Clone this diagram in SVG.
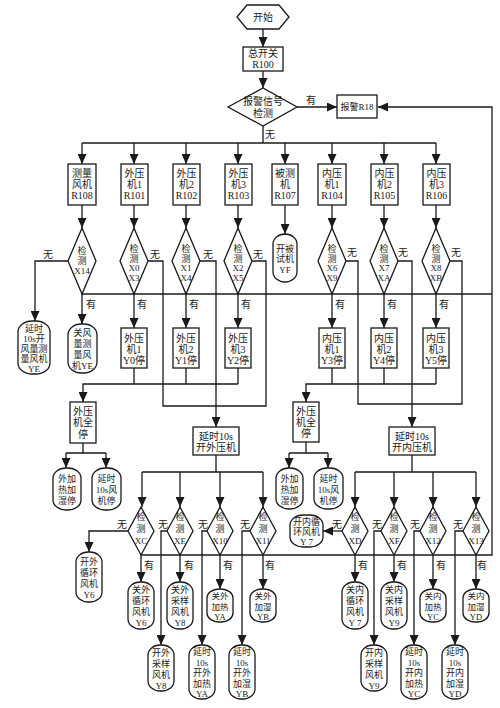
<svg xmlns="http://www.w3.org/2000/svg" width="500" height="708" viewBox="0 0 500 708">
<style>
.n{fill:#fff;stroke:#1a1a1a;stroke-width:1.3}
.c{fill:none;stroke:#1a1a1a;stroke-width:1.3}
.a{marker-end:url(#ah)}
text{font-family:"Liberation Serif","Noto Sans CJK SC",serif;font-size:10px;fill:#1a1a1a;text-anchor:middle}
.s{font-size:9px}
.st text{font-size:9px}
.st2 text{font-size:8.5px}
</style>
<defs>
<marker id="ah" markerUnits="userSpaceOnUse" markerWidth="10" markerHeight="9" refX="10" refY="4.5" orient="auto">
<path d="M0,0 L10,4.5 L0,9 z" fill="#1a1a1a"/>
</marker>
</defs>
<rect width="500" height="708" fill="#fff"/>
<g id="connectors">
<path class="c a" d="M263,29 V47"/>
<path class="c a" d="M263,71 V88"/>
<path class="c a" d="M297,107 H337"/>
<path class="c a" d="M141,555 H492 V107 H378"/>
<path class="c" d="M263,126 V143 M82,143 H436"/>
<path class="c a" d="M82,143 V164"/><path class="c a" d="M134,143 V164"/><path class="c a" d="M186,143 V164"/><path class="c a" d="M238,143 V164"/>
<path class="c a" d="M285,143 V164"/><path class="c a" d="M332,143 V164"/><path class="c a" d="M384,143 V164"/><path class="c a" d="M436,143 V164"/>
<path class="c a" d="M82,205 V228"/><path class="c a" d="M134,205 V228"/><path class="c a" d="M186,205 V228"/><path class="c a" d="M238,205 V228"/>
<path class="c a" d="M285,205 V234"/><path class="c a" d="M332,205 V228"/><path class="c a" d="M384,205 V228"/><path class="c a" d="M436,205 V228"/>
<path class="c" d="M82,294 H492"/>
<path class="c a" d="M68,261 H35 V321"/>
<path class="c a" d="M82,294 V324"/>
<path class="c a" d="M134,294 V328"/><path class="c a" d="M186,294 V328"/><path class="c a" d="M238,294 V328"/>
<path class="c a" d="M332,294 V328"/><path class="c a" d="M384,294 V328"/><path class="c a" d="M436,294 V328"/>
<path class="c" d="M148,261 H163 V406 H266 V261 H252"/>
<path class="c a" d="M200,261 H216 V427"/>
<path class="c" d="M346,261 H358 V404 H462 V261 H450"/>
<path class="c a" d="M398,261 H412 V427"/>
<path class="c" d="M134,368 V384 M186,368 V384 M238,368 V384"/>
<path class="c a" d="M238,384 H83 V402"/>
<path class="c" d="M332,368 V384 M384,368 V384 M436,368 V384"/>
<path class="c a" d="M436,384 H306 V402"/>
<path class="c" d="M83,443 V453 M66,453 H106"/>
<path class="c a" d="M66,453 V468"/><path class="c a" d="M106,453 V468"/>
<path class="c" d="M306,442 V453 M289,453 H328"/>
<path class="c a" d="M289,453 V468"/><path class="c a" d="M328,453 V468"/>
<path class="c" d="M216,455 V472 M142,472 H263"/>
<path class="c a" d="M142,472 V507"/><path class="c a" d="M180,472 V507"/><path class="c a" d="M220,472 V507"/><path class="c a" d="M263,472 V507"/>
<path class="c" d="M412,455 V472 M355,472 H476"/>
<path class="c a" d="M355,472 V507"/><path class="c a" d="M394,472 V507"/><path class="c a" d="M433,472 V507"/><path class="c a" d="M476,472 V507"/>
<path class="c a" d="M128,531 H89 V552"/>
<path class="c a" d="M167,531 H161 V645"/>
<path class="c a" d="M207,531 H202 V645"/>
<path class="c a" d="M250,531 H242 V645"/>
<path class="c a" d="M141,555 V582"/><path class="c a" d="M180,555 V582"/><path class="c a" d="M220,555 V589"/><path class="c a" d="M263,555 V589"/>
<path class="c a" d="M342,531 H323"/>
<path class="c a" d="M381,531 H374 V645"/>
<path class="c a" d="M420,531 H414 V645"/>
<path class="c a" d="M463,531 H455 V645"/>
<path class="c a" d="M355,555 V582"/><path class="c a" d="M394,555 V582"/><path class="c a" d="M433,555 V589"/><path class="c a" d="M476,555 V589"/>
<g>
<text x="311" y="104">有</text><text x="270" y="138">无</text>
<text x="48" y="258">无</text><text x="155" y="258">无</text><text x="208" y="258">无</text><text x="258" y="258">无</text>
<text x="352" y="256">无</text><text x="403" y="256">无</text><text x="456" y="256">无</text>
<text x="91" y="308">有</text><text x="142" y="308">有</text><text x="194" y="308">有</text><text x="246" y="308">有</text>
<text x="340" y="308">有</text><text x="392" y="308">有</text><text x="444" y="308">有</text>
<text x="122" y="528">无</text><text x="163" y="528">无</text><text x="203" y="528">无</text><text x="245" y="528">无</text>
<text x="337" y="528">无</text><text x="377" y="528">无</text><text x="415" y="528">无</text><text x="458" y="528">无</text>
<text x="149" y="569">有</text><text x="189" y="569">有</text><text x="228" y="569">有</text><text x="270" y="569">有</text>
<text x="363" y="569">有</text><text x="402" y="569">有</text><text x="441" y="569">有</text><text x="482" y="569">有</text>
</g>
</g>
<g id="start"><polygon class="n" points="237,17 247,5 279,5 289,17 279,29 247,29"/><text x="263" y="21">开始</text></g>
<g id="r100"><rect class="n" x="243" y="47" width="40" height="24"/><text x="263" y="57">总开关</text><text x="263" y="68">R100</text></g>
<g id="alarmCheck"><polygon class="n" points="228,107 263,88 297,107 263,126"/><text x="263" y="105">报警信号</text><text x="263" y="117">检测</text></g>
<g id="r18"><rect class="n" x="337" y="95" width="40" height="23"/><text class="s" x="357" y="110">报警R18</text></g>

<g id="b108"><rect class="n" x="68" y="164" width="28" height="41"/><text x="82" y="177">测量</text><text x="82" y="188">风机</text><text x="82" y="199">R108</text></g>
<g id="b101"><rect class="n" x="121" y="164" width="27" height="41"/><text x="134.5" y="177">外压</text><text x="134.5" y="188">机1</text><text x="134.5" y="199">R101</text></g>
<g id="b102"><rect class="n" x="173" y="164" width="27" height="41"/><text x="186.5" y="177">外压</text><text x="186.5" y="188">机2</text><text x="186.5" y="199">R102</text></g>
<g id="b103"><rect class="n" x="225" y="164" width="27" height="41"/><text x="238.5" y="177">外压</text><text x="238.5" y="188">机3</text><text x="238.5" y="199">R103</text></g>
<g id="b107"><rect class="n" x="272" y="164" width="26" height="41"/><text x="285" y="177">被测</text><text x="285" y="188">机</text><text x="285" y="199">R107</text></g>
<g id="b104"><rect class="n" x="318" y="164" width="28" height="41"/><text x="332" y="177">内压</text><text x="332" y="188">机1</text><text x="332" y="199">R104</text></g>
<g id="b105"><rect class="n" x="371" y="164" width="27" height="41"/><text x="384.5" y="177">内压</text><text x="384.5" y="188">机2</text><text x="384.5" y="199">R105</text></g>
<g id="b106"><rect class="n" x="423" y="164" width="27" height="41"/><text x="436.5" y="177">内压</text><text x="436.5" y="188">机3</text><text x="436.5" y="199">R106</text></g>

<g id="d14"><polygon class="n" points="68,261 82,228 96,261 82,294"/><text class="s" x="82" y="254">检</text><text class="s" x="82" y="264">测</text><text class="s" x="82" y="274">X14</text></g>
<g id="d0"><polygon class="n" points="120,261 134,228 148,261 134,294"/><text class="s" x="134" y="252">检</text><text class="s" x="134" y="261.5">测</text><text class="s" x="134" y="271">X0</text><text class="s" x="134" y="280.5">X3</text></g>
<g id="d1"><polygon class="n" points="172,261 186,228 200,261 186,294"/><text class="s" x="186" y="252">检</text><text class="s" x="186" y="261.5">测</text><text class="s" x="186" y="271">X1</text><text class="s" x="186" y="280.5">X4</text></g>
<g id="d2"><polygon class="n" points="224,261 238,228 252,261 238,294"/><text class="s" x="238" y="252">检</text><text class="s" x="238" y="261.5">测</text><text class="s" x="238" y="271">X2</text><text class="s" x="238" y="280.5">X5</text></g>
<g id="d6"><polygon class="n" points="318,261 332,228 346,261 332,294"/><text class="s" x="332" y="252">检</text><text class="s" x="332" y="261.5">测</text><text class="s" x="332" y="271">X6</text><text class="s" x="332" y="280.5">X9</text></g>
<g id="d7"><polygon class="n" points="370,261 384,228 398,261 384,294"/><text class="s" x="384" y="252">检</text><text class="s" x="384" y="261.5">测</text><text class="s" x="384" y="271">X7</text><text class="s" x="384" y="280.5">XA</text></g>
<g id="d8"><polygon class="n" points="422,261 436,228 450,261 436,294"/><text class="s" x="436" y="252">检</text><text class="s" x="436" y="261.5">测</text><text class="s" x="436" y="271">X8</text><text class="s" x="436" y="280.5">XB</text></g>

<g id="yf" class="st"><rect class="n" x="273" y="234" width="24" height="48" rx="12" ry="10"/><text x="285" y="251.5">开被</text><text x="285" y="262">试机</text><text x="285" y="272.5">YF</text></g>
<g id="yeOn" class="st"><rect class="n" x="18" y="321" width="32" height="53" rx="14" ry="11"/><text x="34" y="332">延时</text><text x="34" y="342">10s开</text><text x="34" y="352">风量测</text><text x="34" y="362">量风机</text><text x="34" y="372">YE</text></g>
<g id="yeOff" class="st"><rect class="n" x="68" y="324" width="29" height="49" rx="13" ry="11"/><text x="82.5" y="336">关风</text><text x="82.5" y="347">量测</text><text x="82.5" y="358">量风</text><text x="82.5" y="369">机YE</text></g>

<g id="y0"><rect class="n" x="121" y="328" width="26" height="40"/><text x="134" y="342">外压</text><text x="134" y="353">机1</text><text x="134" y="364">Y0停</text></g>
<g id="y1"><rect class="n" x="173" y="328" width="26" height="40"/><text x="186" y="342">外压</text><text x="186" y="353">机2</text><text x="186" y="364">Y1停</text></g>
<g id="y2"><rect class="n" x="225" y="328" width="26" height="40"/><text x="238" y="342">外压</text><text x="238" y="353">机3</text><text x="238" y="364">Y2停</text></g>
<g id="y3"><rect class="n" x="319" y="328" width="26" height="40"/><text x="332" y="342">内压</text><text x="332" y="353">机1</text><text x="332" y="364">Y3停</text></g>
<g id="y4"><rect class="n" x="371" y="328" width="26" height="40"/><text x="384" y="342">内压</text><text x="384" y="353">机2</text><text x="384" y="364">Y4停</text></g>
<g id="y5"><rect class="n" x="423" y="328" width="26" height="40"/><text x="436" y="342">内压</text><text x="436" y="353">机3</text><text x="436" y="364">Y5停</text></g>

<g id="allStopL"><rect class="n" x="70" y="402" width="26" height="41"/><text x="83" y="415">外压</text><text x="83" y="426">机全</text><text x="83" y="438">停</text></g>
<g id="allStopR"><rect class="n" x="293" y="402" width="26" height="40"/><text x="306" y="415">外压</text><text x="306" y="426">机全</text><text x="306" y="437">停</text></g>
<g id="heatStopL" class="st"><rect class="n" x="53" y="468" width="28" height="42" rx="13" ry="10"/><text x="67" y="482">外加</text><text x="67" y="493">热加</text><text x="67" y="504">湿停</text></g>
<g id="fanStopL" class="st"><rect class="n" x="92" y="468" width="29" height="42" rx="13" ry="10"/><text x="106.5" y="482">延时</text><text x="106.5" y="493">10s风</text><text x="106.5" y="504">机停</text></g>
<g id="heatStopR" class="st"><rect class="n" x="276" y="468" width="27" height="41" rx="13" ry="10"/><text x="289.5" y="482">外加</text><text x="289.5" y="493">热加</text><text x="289.5" y="504">湿停</text></g>
<g id="fanStopR" class="st"><rect class="n" x="314" y="468" width="29" height="41" rx="13" ry="10"/><text x="328.5" y="482">延时</text><text x="328.5" y="493">10s风</text><text x="328.5" y="504">机停</text></g>

<g id="delayOut"><rect class="n" x="193" y="427" width="46" height="28"/><text x="216" y="440">延时10s</text><text x="216" y="451">开外压机</text></g>
<g id="delayIn"><rect class="n" x="389" y="427" width="46" height="28"/><text x="412" y="440">延时10s</text><text x="412" y="451">开内压机</text></g>

<g id="dXC"><polygon class="n" points="128,531 141,507 154,531 141,555"/><text class="s" x="141" y="520">检</text><text class="s" x="141" y="532">测</text><text class="s" x="141" y="544">XC</text></g>
<g id="dXE"><polygon class="n" points="167,531 180,507 193,531 180,555"/><text class="s" x="180" y="520">检</text><text class="s" x="180" y="532">测</text><text class="s" x="180" y="544">XE</text></g>
<g id="dX10"><polygon class="n" points="207,531 220,507 233,531 220,555"/><text class="s" x="220" y="520">检</text><text class="s" x="220" y="532">测</text><text class="s" x="220" y="544">X10</text></g>
<g id="dX11"><polygon class="n" points="250,531 263,507 276,531 263,555"/><text class="s" x="263" y="520">检</text><text class="s" x="263" y="532">测</text><text class="s" x="263" y="544">X11</text></g>
<g id="dXD"><polygon class="n" points="342,531 355,507 368,531 355,555"/><text class="s" x="355" y="520">检</text><text class="s" x="355" y="532">测</text><text class="s" x="355" y="544">XD</text></g>
<g id="dXF"><polygon class="n" points="381,531 394,507 407,531 394,555"/><text class="s" x="394" y="520">检</text><text class="s" x="394" y="532">测</text><text class="s" x="394" y="544">XF</text></g>
<g id="dX12"><polygon class="n" points="420,531 433,507 446,531 433,555"/><text class="s" x="433" y="520">检</text><text class="s" x="433" y="532">测</text><text class="s" x="433" y="544">X12</text></g>
<g id="dX13"><polygon class="n" points="463,531 476,507 489,531 476,555"/><text class="s" x="476" y="520">检</text><text class="s" x="476" y="532">测</text><text class="s" x="476" y="544">X13</text></g>

<g id="y6on" class="st"><rect class="n" x="76" y="552" width="26" height="50" rx="12" ry="10"/><text x="89" y="565">开外</text><text x="89" y="576">循环</text><text x="89" y="587">风机</text><text x="89" y="598">Y6</text></g>
<g id="y6off" class="st"><rect class="n" x="128" y="582" width="26" height="47" rx="12" ry="10"/><text x="141" y="593">关外</text><text x="141" y="604">循环</text><text x="141" y="615">风机</text><text x="141" y="626">Y6</text></g>
<g id="y8off" class="st"><rect class="n" x="167" y="582" width="26" height="47" rx="12" ry="10"/><text x="180" y="593">关外</text><text x="180" y="604">采样</text><text x="180" y="615">风机</text><text x="180" y="626">Y8</text></g>
<g id="yaoff" class="st2"><rect class="n" x="207" y="589" width="26" height="33" rx="12" ry="9"/><text x="220" y="599">关外</text><text x="220" y="609.5">加热</text><text x="220" y="620">YA</text></g>
<g id="yboff" class="st2"><rect class="n" x="250" y="589" width="26" height="33" rx="12" ry="9"/><text x="263" y="599">关外</text><text x="263" y="609.5">加湿</text><text x="263" y="620">YB</text></g>
<g id="y8on" class="st"><rect class="n" x="148" y="645" width="26" height="46" rx="12" ry="10"/><text x="161" y="656">开外</text><text x="161" y="667">采样</text><text x="161" y="678">风机</text><text x="161" y="689">Y8</text></g>
<g id="yaon" class="st"><rect class="n" x="189" y="645" width="26" height="54" rx="12" ry="10"/><text x="202" y="655">延时</text><text x="202" y="665.5">10s</text><text x="202" y="676">开外</text><text x="202" y="686.5">加热</text><text x="202" y="697">YA</text></g>
<g id="ybon" class="st"><rect class="n" x="229" y="645" width="26" height="54" rx="12" ry="10"/><text x="242" y="655">延时</text><text x="242" y="665.5">10s</text><text x="242" y="676">开外</text><text x="242" y="686.5">加湿</text><text x="242" y="697">YB</text></g>

<g id="y7on" class="st"><rect class="n" x="290" y="515" width="33" height="32" rx="13" ry="10"/><text x="306.5" y="525">开内循</text><text x="306.5" y="535">环风机</text><text x="306.5" y="545">Y 7</text></g>
<g id="y7off" class="st"><rect class="n" x="342" y="582" width="26" height="47" rx="12" ry="10"/><text x="355" y="593">关内</text><text x="355" y="604">循环</text><text x="355" y="615">风机</text><text x="355" y="626">Y 7</text></g>
<g id="y9off" class="st"><rect class="n" x="381" y="582" width="26" height="47" rx="12" ry="10"/><text x="394" y="593">关内</text><text x="394" y="604">采样</text><text x="394" y="615">风机</text><text x="394" y="626">Y9</text></g>
<g id="ycoff" class="st2"><rect class="n" x="420" y="589" width="26" height="33" rx="12" ry="9"/><text x="433" y="599">关内</text><text x="433" y="609.5">加热</text><text x="433" y="620">YC</text></g>
<g id="ydoff" class="st2"><rect class="n" x="463" y="589" width="26" height="33" rx="12" ry="9"/><text x="476" y="599">关内</text><text x="476" y="609.5">加湿</text><text x="476" y="620">YD</text></g>
<g id="y9on" class="st"><rect class="n" x="361" y="645" width="26" height="46" rx="12" ry="10"/><text x="374" y="656">开内</text><text x="374" y="667">采样</text><text x="374" y="678">风机</text><text x="374" y="689">Y9</text></g>
<g id="ycon" class="st"><rect class="n" x="401" y="645" width="26" height="54" rx="12" ry="10"/><text x="414" y="655">延时</text><text x="414" y="665.5">10s</text><text x="414" y="676">开内</text><text x="414" y="686.5">加热</text><text x="414" y="697">YC</text></g>
<g id="ydon" class="st"><rect class="n" x="442" y="645" width="26" height="54" rx="12" ry="10"/><text x="455" y="655">延时</text><text x="455" y="665.5">10s</text><text x="455" y="676">开内</text><text x="455" y="686.5">加湿</text><text x="455" y="697">YD</text></g>
</svg>
